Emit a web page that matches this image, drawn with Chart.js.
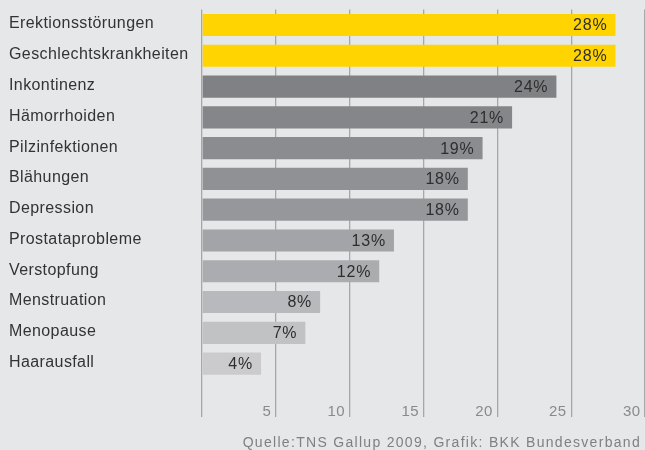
<!DOCTYPE html>
<html><head><meta charset="utf-8">
<script src="https://cdn.jsdelivr.net/npm/chart.js@4"></script>
<style>
html,body{margin:0;padding:0;background:#e6e7e9;}
#wrap{width:645px;height:450px;position:relative;}
#foot{position:absolute;right:4px;top:434px;font:14px "Liberation Sans",Arial,sans-serif;letter-spacing:1.3px;color:#808080;white-space:nowrap;line-height:17px;}
</style></head>
<body><div id="wrap"><canvas id="c"></canvas><div id="foot"></div></div>
<script>
const categories = ["Erektionsstörungen","Geschlechtskrankheiten","Inkontinenz","Hämorrhoiden","Pilzinfektionen","Blähungen","Depression","Prostataprobleme","Verstopfung","Menstruation","Menopause","Haarausfall"];
const values = [28,28,24,21,19,18,18,13,12,8,7,4];
const barColors = ["#ffd400","#ffd400","#808185","#85868a","#8b8c90","#909195","#96979b","#a3a4a7","#abacaf","#b8b9bc","#c1c2c4","#cbcbcd"];
const xMin = 0, xMax = 30, xStep = 5;
const footer = "Quelle:TNS Gallup 2009, Grafik: BKK Bundesverband";
document.getElementById('foot').textContent = footer;

const spacing = {
  id:'spacing',
  beforeDraw(chart){ if ('letterSpacing' in chart.ctx) chart.ctx.letterSpacing = '0.4px'; }
};
const valueLabels = {
  id:'valueLabels',
  afterDatasetsDraw(chart){
    const ctx = chart.ctx;
    const meta = chart.getDatasetMeta(0);
    ctx.save();
    ctx.font = '16px "Liberation Sans", Arial, sans-serif';
    ctx.fillStyle = '#2e2e2e';
    ctx.textAlign = 'right';
    ctx.textBaseline = 'middle';
    if ('letterSpacing' in ctx) ctx.letterSpacing = '0.8px';
    meta.data.forEach((bar,i)=>{
      ctx.fillText(values[i] + '%', bar.x - 8, bar.y + 1);
    });
    ctx.restore();
  }
};

new Chart(document.getElementById('c'), {
  type:'bar',
  data:{labels:categories, datasets:[{data:values, backgroundColor:barColors, barPercentage:0.72, categoryPercentage:1.0, borderWidth:0}]},
  options:{
    indexAxis:'y',
    responsive:true, maintainAspectRatio:false, animation:false,
    layout:{padding:{left:9,right:0,top:9,bottom:28}},
    plugins:{ legend:{display:false}, tooltip:{enabled:false} },
    scales:{
      x:{type:'linear', min:xMin, max:xMax,
        grid:{color:'#a6a7a9', lineWidth:1.3, tickLength:38, tickColor:'#a6a7a9', drawTicks:true},
        border:{display:false},
        afterFit:(ax)=>{ax.height = 43;},
        ticks:{stepSize:xStep, align:'end', padding:-14, color:'#8a8a8a', autoSkip:false, maxRotation:0,
          font:{family:'"Liberation Sans", Arial, sans-serif', size:15},
          callback:(v)=> v===0 ? '' : v + ' '}
      },
      y:{grid:{display:false, drawTicks:false}, border:{display:false},
        afterFit:(ax)=>{ax.width = 193;},
        ticks:{crossAlign:'far', padding:0, labelOffset:-1, color:'#333333', font:{family:'"Liberation Sans", Arial, sans-serif', size:16}}
      }
    }
  },
  plugins:[spacing, valueLabels]
});
</script></body></html>
